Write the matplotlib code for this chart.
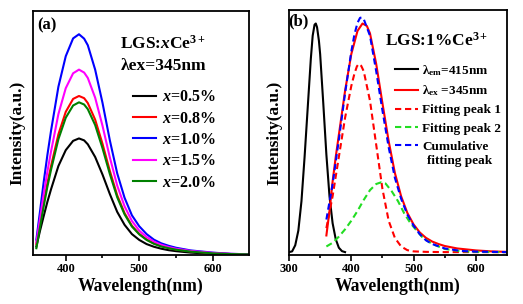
import matplotlib
matplotlib.use('Agg')
import matplotlib.pyplot as plt

# ---- panel (a): emission spectra, lambda_ex = 345 nm ----
wl_a = [360, 365, 370, 375, 380, 390, 400, 410, 418, 425, 430, 440, 450, 460,
        470, 480, 490, 500, 510, 520, 530, 540, 550, 570, 600, 625, 650]
x05 = [0.035, 0.1, 0.16, 0.218, 0.27, 0.365, 0.43, 0.468, 0.478, 0.47, 0.454,
       0.402, 0.33, 0.25, 0.177, 0.124, 0.086, 0.062, 0.045, 0.034, 0.026, 0.02,
       0.016, 0.01, 0.005, 0.003, 0.002]
x08 = [0.046, 0.13, 0.215, 0.295, 0.365, 0.495, 0.587, 0.64, 0.652, 0.643, 0.623,
       0.555, 0.456, 0.345, 0.245, 0.172, 0.12, 0.087, 0.064, 0.048, 0.037, 0.029,
       0.023, 0.015, 0.008, 0.004, 0.003]
x10 = [0.063, 0.18, 0.30, 0.41, 0.51, 0.69, 0.815, 0.888, 0.905, 0.887, 0.86,
       0.76, 0.624, 0.47, 0.335, 0.235, 0.163, 0.118, 0.086, 0.063, 0.048, 0.038,
       0.03, 0.019, 0.01, 0.005, 0.003]
x15 = [0.052, 0.15, 0.25, 0.342, 0.425, 0.578, 0.684, 0.745, 0.76, 0.748, 0.726,
       0.645, 0.53, 0.40, 0.285, 0.20, 0.14, 0.10, 0.074, 0.055, 0.042, 0.033,
       0.026, 0.017, 0.009, 0.005, 0.003]
x20 = [0.028, 0.115, 0.2, 0.28, 0.35, 0.475, 0.563, 0.613, 0.626, 0.617, 0.598,
       0.533, 0.438, 0.332, 0.237, 0.167, 0.117, 0.085, 0.062, 0.046, 0.035, 0.028,
       0.022, 0.014, 0.007, 0.004, 0.003]
labels_a = ['0.5%', '0.8%', '1.0%', '1.5%', '2.0%']
colors_a = ['black', 'red', 'blue', 'magenta', 'green']

# ---- panel (b): LGS:1%Ce3+ excitation / emission and fit ----
wl_exc = [300, 305, 310, 315, 320, 325, 330, 335, 338, 341, 343, 345, 348, 350,
          355, 360, 365, 370, 375, 380, 385, 390]
exc = [0.012, 0.015, 0.04, 0.10, 0.22, 0.40, 0.60, 0.80, 0.895, 0.94, 0.945,
       0.93, 0.875, 0.82, 0.62, 0.41, 0.24, 0.13, 0.065, 0.03, 0.016, 0.012]
wl_em = [360, 365, 370, 375, 380, 390, 400, 410, 418, 425, 430, 440, 450, 460,
         470, 480, 490, 500, 510, 520, 530, 540, 550, 570, 600, 625, 650]
em = [0.08, 0.18, 0.30, 0.40, 0.49, 0.67, 0.82, 0.915, 0.945, 0.935, 0.905, 0.78,
      0.62, 0.465, 0.335, 0.24, 0.172, 0.125, 0.092, 0.07, 0.055, 0.045, 0.037,
      0.027, 0.019, 0.015, 0.013]
wl_p1 = [360, 370, 380, 390, 400, 405, 409, 412, 416, 420, 430, 440, 450, 460,
         470, 480, 490, 500, 520, 550, 600, 650]
peak1 = [0.11, 0.24, 0.40, 0.56, 0.69, 0.74, 0.77, 0.78, 0.772, 0.75, 0.63, 0.45,
         0.27, 0.14, 0.07, 0.035, 0.02, 0.015, 0.013, 0.012, 0.012, 0.012]
wl_p2 = [360, 370, 380, 390, 400, 410, 420, 430, 440, 448, 455, 465, 475, 485,
         495, 505, 515, 530, 550, 575, 600, 650]
peak2 = [0.035, 0.05, 0.075, 0.105, 0.14, 0.18, 0.225, 0.265, 0.29, 0.297, 0.292,
         0.26, 0.22, 0.17, 0.13, 0.10, 0.07, 0.045, 0.025, 0.016, 0.013, 0.012]
wl_cum = [360, 370, 380, 390, 400, 405, 410, 414, 417, 420, 430, 440, 450, 460,
          470, 480, 490, 500, 510, 520, 530, 550, 575, 600, 650]
cum = [0.145, 0.29, 0.47, 0.66, 0.83, 0.90, 0.948, 0.968, 0.97, 0.963, 0.895,
       0.75, 0.59, 0.44, 0.315, 0.23, 0.165, 0.12, 0.085, 0.06, 0.045, 0.027,
       0.017, 0.014, 0.012]

major_ticks = [300, 400, 500, 600]
minor_ticks = [350, 450, 550]

plt.rcParams['font.family'] = ['Liberation Serif', 'DejaVu Serif']
plt.rcParams['font.weight'] = 'bold'
plt.rcParams['axes.labelweight'] = 'bold'
plt.rcParams['mathtext.fontset'] = 'custom'
plt.rcParams['mathtext.rm'] = 'Liberation Serif:bold'
plt.rcParams['mathtext.it'] = 'Liberation Serif:italic:bold'
plt.rcParams['mathtext.bf'] = 'Liberation Serif:bold'

fig = plt.figure(figsize=(5.23, 3.04), dpi=100)
ax1 = fig.add_axes([0.0625, 0.161, 0.4145, 0.8026])
ax2 = fig.add_axes([0.5526, 0.161, 0.4168, 0.806])

lw = 1.5
dash = (0, (3, 1.8))

for ys, lab, c in zip([x05, x08, x10, x15, x20], labels_a, colors_a):
    ax1.plot(wl_a, ys, color=c, lw=lw, label=r'$\it{x}$=' + lab)

ax2.plot(wl_exc, exc, color='black', lw=lw, label=r'λ$_{\rm em}$=415nm')
ax2.plot(wl_em, em, color='red', lw=lw, label=r'λ$_{\rm ex}$ =345nm')
ax2.plot(wl_p1, peak1, color='red', lw=lw, ls=dash, label='Fitting peak 1')
ax2.plot(wl_p2, peak2, color='#22dd22', lw=lw, ls=dash, label='Fitting peak 2')
ax2.plot(wl_cum, cum, color='blue', lw=lw, ls=dash, label='Cumulative')

for ax, xmin in [(ax1, 355), (ax2, 300)]:
    ax.set_xlim(xmin, 650)
    ax.set_ylim(0, 1)
    ax.set_yticks([])
    ticks = [t for t in major_ticks if t >= xmin]
    ax.set_xticks(ticks, labels=[str(t) for t in ticks], fontweight='bold', fontsize=9)
    ax.set_xticks([t for t in minor_ticks if t >= xmin], minor=True)
    ax.tick_params(axis='x', which='major', length=4, width=1.2, pad=2)
    ax.tick_params(axis='x', which='minor', length=2.5, width=1.2)
    for s in ax.spines.values():
        s.set_linewidth(1.3)
    ax.set_xlabel('Wavelength(nm)', fontsize=12.7, fontweight='bold', labelpad=2)
    ax.set_ylabel('Intensity(a.u.)', fontsize=12.5, fontweight='bold', labelpad=5)

ax1.text(0.02, 0.975, '(a)', transform=ax1.transAxes, fontsize=12, va='top', ha='left')
ax1.text(0.405, 0.865, r'LGS:$\it{x}$Ce$^{\rm 3+}$', transform=ax1.transAxes,
         fontsize=12.5, va='center', ha='left')
ax1.text(0.405, 0.775, 'λex=345nm', transform=ax1.transAxes,
         fontsize=12.5, va='center', ha='left')
ax1.legend(loc='upper left', bbox_to_anchor=(0.462, 0.68), frameon=False,
           fontsize=11.5, handlelength=1.45, handletextpad=0.4, labelspacing=0.34,
           borderpad=0, borderaxespad=0)

ax2.text(-0.005, 0.985, '(b)', transform=ax2.transAxes, fontsize=12, va='top', ha='left')
ax2.text(0.44, 0.875, r'LGS:1%Ce$^{\rm 3+}$', transform=ax2.transAxes,
         fontsize=12.5, va='center', ha='left')
ax2.legend(loc='upper left', bbox_to_anchor=(0.485, 0.785), frameon=False,
           fontsize=9.5, handlelength=1.8, handletextpad=0.3, labelspacing=0.45,
           borderpad=0, borderaxespad=0)
ax2.text(0.635, 0.385, 'fitting peak', transform=ax2.transAxes, fontsize=9.5,
         va='center', ha='left')

fig.savefig('out.png', dpi=100)
